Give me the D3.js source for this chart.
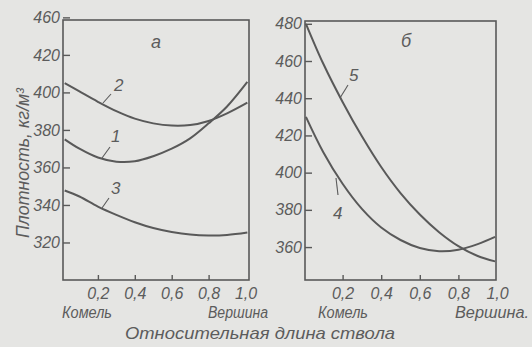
<!DOCTYPE html>
<html><head><meta charset="utf-8">
<script src="https://cdn.jsdelivr.net/npm/d3@7/dist/d3.min.js"></script>
<style>
html,body{margin:0;padding:0;background:#e5e5e3;}
svg{display:block;}
text{font-family:"Liberation Sans Narrow","Liberation Sans",sans-serif;font-style:italic;fill:#5c5c5c;}
</style></head>
<body>
<svg id="c" width="532" height="347"></svg>
<script>
// ---- data ----
const xLeft = [0.02, 0.1, 0.2, 0.3, 0.4, 0.5, 0.6, 0.7, 0.8, 0.9, 1.01];
const curve1 = [375, 370, 365.3, 363.1, 363.3, 366, 370, 375.5, 383.5, 392.5, 405.6];
const curve2 = [405, 400.5, 395, 390, 386, 383.5, 382.3, 382.6, 384.8, 388.8, 394.5];
const curve3 = [347.7, 344.5, 339.1, 334.7, 330.8, 327.7, 325.6, 324.2, 323.7, 324, 325.3];

const xRight = [0.01, 0.1, 0.2, 0.3, 0.4, 0.5, 0.6, 0.7, 0.8, 0.9, 0.99];
const curve4 = [430, 411, 394, 380.5, 370.5, 363.8, 359.5, 357.8, 358.6, 361.6, 365.5];
const curve5 = [480, 458.5, 438, 419.5, 403, 389, 377.5, 368, 360.5, 355.2, 352.3];

const xTickValues = [0.2, 0.4, 0.6, 0.8, 1.0];
const xTickLabels = ["0,2", "0,4", "0,6", "0,8", "1,0"];
const yLeftTickValues = [440, 420, 400, 380, 360, 340, 320];
const yLeftTickLabels = ["460", "420", "400", "380", "360", "340", "320"];
const yRightTickValues = [480, 460, 440, 420, 400, 380, 360];
const yRightTickLabels = ["480", "460", "440", "420", "400", "380", "360"];

const curveNamesLeft = ["1", "2", "3"];
const curveNamesRight = ["4", "5"];

// ---- drawing ----
const svg = d3.select("#c");
const INK = "#595959";

function panel(cfg) {
  const x = d3.scaleLinear().domain([0, 1]).range(cfg.xr);
  const y = d3.scaleLinear().domain(cfg.yd).range([cfg.bottom, cfg.top]);
  const g = svg.append("g");
  g.append("rect").attr("x", cfg.frame[0]).attr("y", cfg.top)
    .attr("width", cfg.frame[1] - cfg.frame[0]).attr("height", cfg.bottom - cfg.top)
    .attr("fill", "none").attr("stroke", INK).attr("stroke-width", 1.6);
  const ya = g.append("g").attr("transform", `translate(${cfg.frame[0]},0)`)
    .call(d3.axisLeft(y).tickValues(cfg.yTicks).tickSize(-7).tickPadding(3)
      .tickFormat((d, i) => cfg.yLabels[i]));
  ya.select(".domain").remove();
  ya.selectAll("line").attr("stroke", INK).attr("stroke-width", 1.4);
  ya.selectAll("text").attr("font-size", 16).attr("font-family", null).attr("fill", "#666");
  const xa = g.append("g").attr("transform", `translate(0,${cfg.bottom})`)
    .call(d3.axisBottom(x).tickValues(xTickValues).tickSize(-5).tickPadding(8)
      .tickFormat((d, i) => xTickLabels[i]));
  xa.select(".domain").remove();
  xa.selectAll("line").attr("stroke", INK).attr("stroke-width", 1.4);
  xa.selectAll(".tick").filter(d => d === 1).select("line").remove();
  xa.selectAll("text").attr("font-size", 16).attr("font-family", null).attr("fill", "#666");
  const line = d3.line().x(d => x(d[0])).y(d => y(d[1])).curve(d3.curveCatmullRom.alpha(0.5));
  cfg.series.forEach(s => {
    g.append("path").datum(cfg.xs.map((v, i) => [v, s[i]]))
      .attr("d", line).attr("fill", "none").attr("stroke", INK).attr("stroke-width", 2);
  });
  return {x, y, g};
}

panel({
  xr: [61, 245.5], frame: [63, 249], top: 20, bottom: 280, yd: [300, 438.6],
  yTicks: yLeftTickValues, yLabels: yLeftTickLabels, xs: xLeft, series: [curve1, curve2, curve3]
});
panel({
  xr: [304, 497], frame: [305, 496], top: 21, bottom: 280, yd: [342.3, 481.5],
  yTicks: yRightTickValues, yLabels: yRightTickLabels, xs: xRight, series: [curve4, curve5]
});

function txt(x, y, s, size, opts = {}) {
  const t = svg.append("text").attr("x", x).attr("y", y).attr("font-size", size)
    .attr("text-anchor", opts.anchor || "start").text(s);
  if (opts.len) t.attr("textLength", opts.len).attr("lengthAdjust", "spacingAndGlyphs");
  if (opts.rot) t.attr("transform", `rotate(${opts.rot},${x},${y})`);
  return t;
}
function leader(x1, y1, x2, y2) {
  svg.append("line").attr("x1", x1).attr("y1", y1).attr("x2", x2).attr("y2", y2)
    .attr("stroke", INK).attr("stroke-width", 1.1);
}

txt(114, 91, curveNamesLeft[1], 17); leader(103, 103, 111, 94);
txt(111, 142, curveNamesLeft[0], 17); leader(102, 158, 110, 147);
txt(111, 194, curveNamesLeft[2], 17); leader(102, 208, 109, 198);
txt(349, 81, curveNamesRight[1], 17); leader(340, 98, 348, 85);
txt(333, 219, curveNamesRight[0], 17); leader(336, 178, 338, 195);

txt(151, 48, "а", 18);
txt(401, 47, "б", 18);

txt(62, 318, "Комель", 16, {len: 50});
txt(208, 318, "Вершина", 16, {len: 60});
txt(318, 318, "Комель", 16, {len: 50});
txt(455, 318, "Вершина.", 16, {len: 74});
txt(125, 339, "Относительная длина ствола", 17, {len: 270});

txt(29, 238, "Плотность, кг/м³", 18, {rot: -90, len: 150});
</script>
</body></html>
